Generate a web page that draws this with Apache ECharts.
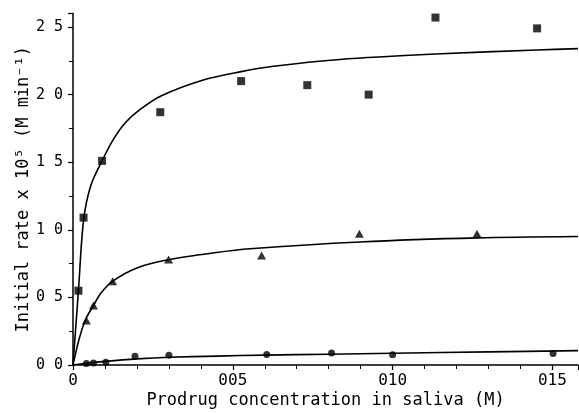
<!DOCTYPE html>
<html>
<head>
<meta charset="utf-8">
<script src="https://cdn.jsdelivr.net/npm/echarts@6/dist/echarts.min.js"></script>
<style>
  html, body { margin: 0; padding: 0; background: #fff; }
  #chart { width: 579px; height: 413px; }
</style>
</head>
<body>
<div id="chart"></div>
<script>
// measured points (x in M, y = rate x 10^5)
const squareX = [0.0017, 0.0033, 0.0091, 0.0273, 0.0526, 0.0733, 0.0925, 0.1134, 0.1452];
const squareY = [0.55, 1.09, 1.51, 1.87, 2.10, 2.07, 2.00, 2.57, 2.49];
const triangleX = [0.0042, 0.0064, 0.0124, 0.0299, 0.0590, 0.0896, 0.1264];
const triangleY = [0.33, 0.44, 0.62, 0.78, 0.81, 0.97, 0.97];
const circleX = [0.0042, 0.0064, 0.0103, 0.0194, 0.0300, 0.0606, 0.0809, 0.1000, 0.1502];
const circleY = [0.012, 0.015, 0.02, 0.065, 0.072, 0.078, 0.088, 0.075, 0.085];

// fitted curves
const squareFitX = [0, 0.0017, 0.0033, 0.0056, 0.0093, 0.0124, 0.0163, 0.021, 0.0275, 0.041, 0.0526, 0.0627, 0.0835, 0.1134, 0.1452, 0.158];
const squareFitY = [0, 0.55, 1.07, 1.33, 1.52, 1.66, 1.79, 1.89, 1.99, 2.11, 2.17, 2.21, 2.26, 2.30, 2.33, 2.34];
const triangleFitX = [0, 0.0019, 0.004, 0.0064, 0.0087, 0.0124, 0.0202, 0.0301, 0.0442, 0.0554, 0.0898, 0.1264, 0.158];
const triangleFitY = [0, 0.19, 0.34, 0.44, 0.53, 0.62, 0.72, 0.78, 0.83, 0.86, 0.91, 0.94, 0.95];
const circleFitX = [0, 0.005, 0.01, 0.02, 0.03, 0.045, 0.06, 0.08, 0.10, 0.13, 0.158];
const circleFitY = [0, 0.015, 0.027, 0.045, 0.057, 0.066, 0.073, 0.08, 0.087, 0.097, 0.106];

// tick labels as printed
const xTickLabels = ['0', '005', '010', '015'];
const yTickLabels = ['0 0', '0 5', '1 0', '1 5', '2 0', '2 5'];

const pairs = (xs, ys) => xs.map((x, i) => [x, ys[i]]);
const font = 'DejaVu Sans Mono';

const chart = echarts.init(document.getElementById('chart'));

const fitLine = (xs, ys) => ({
  type: 'line',
  data: pairs(xs, ys),
  showSymbol: false,
  smooth: 0.3,
  lineStyle: { color: '#000', width: 1.6 },
  silent: true,
  z: 2
});
const marks = (xs, ys, symbol, size) => ({
  type: 'scatter',
  data: pairs(xs, ys),
  symbol: symbol,
  symbolSize: size,
  itemStyle: { color: '#000' },
  z: 3
});

chart.setOption({
  animation: false,
  backgroundColor: '#fff',
  grid: { left: 73, right: 1, top: 13.5, bottom: 48, outerBoundsMode: 'none' },
  xAxis: {
    type: 'value',
    min: 0,
    max: 0.158,
    interval: 0.05,
    name: 'Prodrug concentration in saliva (M)',
    nameLocation: 'middle',
    nameGap: 27,
    nameMoveOverlap: false,
    nameTextStyle: { fontFamily: font, fontSize: 17, color: '#000' },
    axisLine: { lineStyle: { color: '#000', width: 1.5 } },
    axisTick: { show: true, length: 5, lineStyle: { color: '#000', width: 1.2 } },
    minorTick: { show: true, splitNumber: 5, length: 4, lineStyle: { color: '#000', width: 1 } },
    splitLine: { show: false },
    axisLabel: {
      fontFamily: font, fontSize: 16, color: '#000', margin: 8,
      showMaxLabel: false,
      formatter: v => xTickLabels[Math.round(v / 0.05)] || ''
    }
  },
  yAxis: {
    type: 'value',
    min: 0,
    max: 2.6,
    interval: 0.5,
    name: 'Initial rate x 10\u2075 (M min\u207b\u00b9)',
    nameLocation: 'middle',
    nameGap: 41,
    nameMoveOverlap: false,
    nameTextStyle: { fontFamily: font, fontSize: 17, color: '#000' },
    axisLine: { show: true, lineStyle: { color: '#000', width: 1.5 } },
    axisTick: { show: true, length: 5, lineStyle: { color: '#000', width: 1.2 } },
    minorTick: { show: true, splitNumber: 2, length: 4, lineStyle: { color: '#000', width: 1 } },
    splitLine: { show: false },
    axisLabel: {
      fontFamily: font, fontSize: 15, color: '#000', margin: 10,
      showMaxLabel: false,
      formatter: v => yTickLabels[Math.round(v / 0.5)] || ''
    }
  },
  series: [
    fitLine(squareFitX, squareFitY),
    fitLine(triangleFitX, triangleFitY),
    fitLine(circleFitX, circleFitY),
    marks(squareX, squareY, 'rect', 8),
    marks(triangleX, triangleY, 'triangle', [9, 8]),
    marks(circleX, circleY, 'circle', 7)
  ]
});
</script>
</body>
</html>
